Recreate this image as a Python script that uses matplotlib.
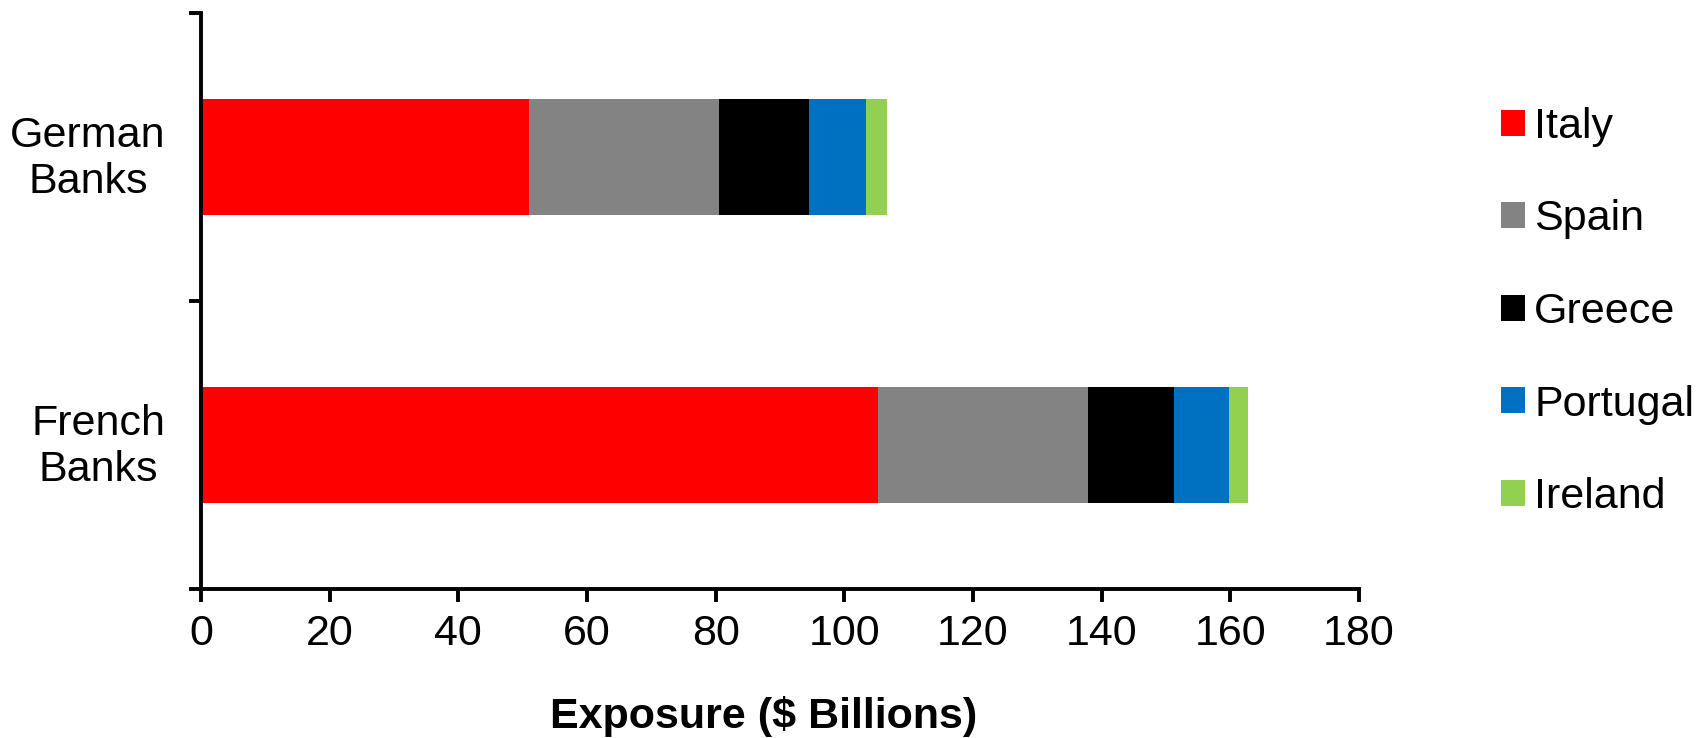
import matplotlib
matplotlib.use("Agg")
import matplotlib.pyplot as plt
import matplotlib.transforms as mtransforms
from matplotlib.patches import Patch
import numpy as np

plt.rcParams['font.family'] = ['Liberation Sans', 'DejaVu Sans']

# data ($ billions)
banks = ["French\nBanks", "German\nBanks"]
countries = ["Italy", "Spain", "Greece", "Portugal", "Ireland"]
italy = [105.2, 51.0]
spain = [32.6, 29.5]
greece = [13.4, 14.0]
portugal = [8.6, 8.9]
ireland = [2.9, 3.2]
colors = ["#FF0000", "#838383", "#000000", "#0070C0", "#92D050"]

series = [italy, spain, greece, portugal, ireland]
fs = 31

fig = plt.figure(figsize=(17.07, 7.38), dpi=100)
ax = fig.add_axes([201 / 1707, 1 - 589 / 738, (1359 - 201) / 1707, (589 - 13) / 738])

ypos = np.array([0.5, 1.5])
left = np.zeros(len(banks))
for vals, c in zip(series, colors):
    ax.barh(ypos, vals, left=left, height=0.4, color=c, edgecolor='none')
    left += np.array(vals)

ax.set_xlim(0, 180)
ax.set_ylim(0, 2)
ax.set_xticks(range(0, 181, 20))
ax.set_yticks([0, 1, 2])
ax.set_yticklabels([])
ax.set_yticks(ypos, minor=True)
ax.set_yticklabels(banks, minor=True)

for s in ['top', 'right']:
    ax.spines[s].set_visible(False)
for s in ['left', 'bottom']:
    ax.spines[s].set_linewidth(2.8)

ax.tick_params(axis='x', which='major', direction='out', length=9, width=2.8,
               labelsize=fs, pad=9)
ax.tick_params(axis='y', which='major', direction='out', length=9, width=2.8)
ax.tick_params(axis='y', which='minor', length=0, labelsize=fs, pad=25.5)

# nudge the category labels up a little
shift = mtransforms.ScaledTranslation(0, 4 / 72, fig.dpi_scale_trans)
for lab in ax.get_yticklabels(minor=True):
    lab.set_multialignment('center')
    lab.set_transform(lab.get_transform() + shift)

ax.set_xlabel("Exposure ($ Billions)", fontsize=fs, fontweight='bold')
ax.xaxis.set_label_coords(0.486, -0.185)

handles = [Patch(facecolor=c, edgecolor='none') for c in colors]
fig.legend(handles, countries, loc='center left', bbox_to_anchor=(1501 / 1707, 1 - 312 / 738),
           frameon=False, fontsize=fs, handlelength=0.55, handleheight=0.55,
           handletextpad=0.22, labelspacing=1.22, borderpad=0, borderaxespad=0)

fig.savefig("out.png", dpi=100)
